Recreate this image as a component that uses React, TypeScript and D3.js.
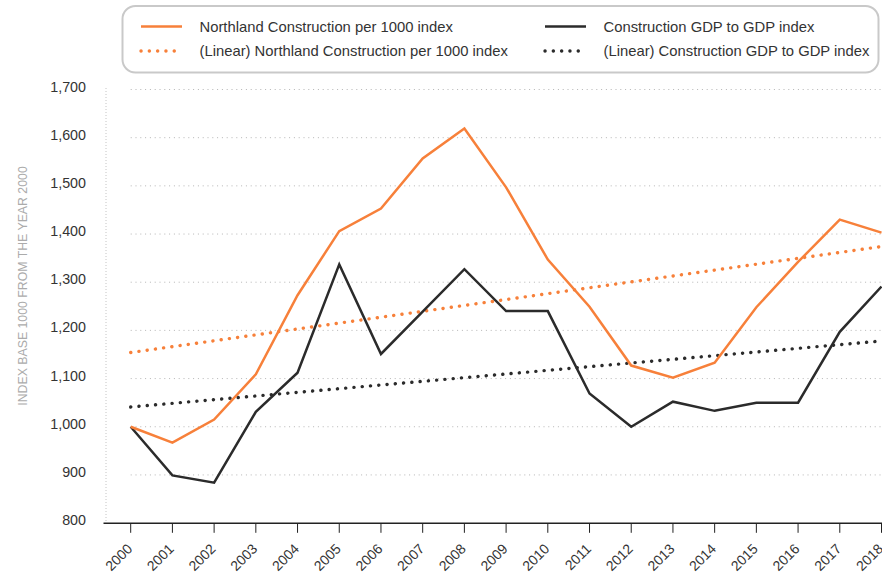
import React from 'react';
import * as d3 from 'd3';

const years: number[] = [
  2000, 2001, 2002, 2003, 2004, 2005, 2006, 2007, 2008, 2009,
  2010, 2011, 2012, 2013, 2014, 2015, 2016, 2017, 2018,
];

const northland: number[] = [
  1000, 967, 1015, 1109, 1273, 1406, 1453, 1557, 1619, 1497,
  1347, 1249, 1127, 1102, 1133, 1248, 1342, 1430, 1403,
];

const gdp: number[] = [
  1000, 899, 884, 1031, 1112, 1337, 1151, 1239, 1327, 1240,
  1240, 1069, 1000, 1052, 1033, 1050, 1050, 1197, 1291,
];

// linear trend end points (2000 and 2018)
const trendYears: number[] = [2000, 2018];
const northlandTrend: number[] = [1154, 1374];
const gdpTrend: number[] = [1041, 1178];

const yTicks: number[] = [800, 900, 1000, 1100, 1200, 1300, 1400, 1500, 1600, 1700];

const legendItems = [
  { label: 'Northland Construction per 1000 index', color: '#f7803a', dotted: false },
  { label: 'Construction GDP to GDP index', color: '#2b2b2b', dotted: false },
  { label: '(Linear) Northland Construction per 1000 index', color: '#f7803a', dotted: true },
  { label: '(Linear) Construction GDP to GDP index', color: '#2b2b2b', dotted: true },
];

const ORANGE = '#f7803a';
const DARK = '#2b2b2b';
const FONT = '"Liberation Sans", Arial, Helvetica, sans-serif';

const App: React.FC = () => {
  const width = 882;
  const height = 576;

  const x = d3.scaleLinear().domain([2000, 2018]).range([130.7, 881.5]);
  const y = d3.scaleLinear().domain([800, 1700]).range([523.1, 89.5]);

  const line = d3
    .line<[number, number]>()
    .x(d => x(d[0]))
    .y(d => y(d[1]));

  const pairs = (xs: number[], vs: number[]) =>
    xs.map((yr, i) => [yr, vs[i]] as [number, number]);

  const dotStyle = { strokeDasharray: '0.1 8.2', strokeLinecap: 'round' as const };

  return (
    <div style={{ position: 'absolute', left: 0, top: 0 }}>
      <svg width={width} height={height} style={{ display: 'block', fontFamily: FONT }}>
        <rect width={width} height={height} fill="#fff" />

        {/* legend */}
        <rect x={122.5} y={6} width={756} height={66.5} rx={13} fill="#fff" stroke="#c9c9c9" strokeWidth={2} />
        {legendItems.map((item, i) => {
          const col = i % 2;
          const row = Math.floor(i / 2);
          const sx = col === 0 ? 141 : 545;
          const sy = row === 0 ? 26.5 : 51;
          return (
            <g key={item.label}>
              <line
                x1={sx}
                x2={sx + 41}
                y1={sy}
                y2={sy}
                stroke={item.color}
                strokeWidth={item.dotted ? 3.4 : 2.6}
                style={item.dotted ? dotStyle : undefined}
              />
              <text x={sx + 58.5} y={sy} dy="0.35em" fontSize={14.8} fill="#333">
                {item.label}
              </text>
            </g>
          );
        })}

        {/* y axis title */}
        <text
          transform={`translate(26.5,286) rotate(-90)`}
          textAnchor="middle"
          fontSize={12.3}
          fill="#ababab"
        >
          INDEX BASE 1000 FROM THE YEAR 2000
        </text>

        {/* dotted y axis line */}
        <line x1={106} x2={106} y1={88} y2={523} stroke="#c4c4c4" strokeWidth={1} strokeDasharray="1 2" />

        {/* gridlines and y labels */}
        {yTicks.map(t => (
          <g key={t}>
            {t > 800 && (
              <line
                x1={x(2000)}
                x2={882}
                y1={y(t)}
                y2={y(t)}
                stroke="#b5b5b5"
                strokeWidth={1}
                strokeDasharray="1 3.8"
              />
            )}
            <text x={86} y={y(t) - 3} dy="0.35em" textAnchor="end" fontSize={14.3} fill="#333">
              {d3.format(',')(t)}
            </text>
          </g>
        ))}

        {/* x axis */}
        <line x1={103.5} x2={882} y1={523.3} y2={523.3} stroke="#222" strokeWidth={1.5} />
        {years.map(yr => (
          <g key={yr} transform={`translate(${x(yr)},523.3)`}>
            <line y1={0} y2={9.5} stroke="#222" strokeWidth={1} />
            <text
              transform="translate(-1,23) rotate(-45)"
              textAnchor="end"
              dy="0.35em"
              fontSize={14}
              fill="#333"
            >
              {yr}
            </text>
          </g>
        ))}

        {/* trend lines */}
        <path
          d={line(pairs(trendYears, northlandTrend)) || ''}
          fill="none"
          stroke={ORANGE}
          strokeWidth={3.4}
          style={dotStyle}
        />
        <path
          d={line(pairs(trendYears, gdpTrend)) || ''}
          fill="none"
          stroke={DARK}
          strokeWidth={3.4}
          style={dotStyle}
        />

        {/* series */}
        <path d={line(pairs(years, gdp)) || ''} fill="none" stroke={DARK} strokeWidth={2.5} strokeLinejoin="miter" />
        <path d={line(pairs(years, northland)) || ''} fill="none" stroke={ORANGE} strokeWidth={2.5} strokeLinejoin="miter" />
      </svg>
    </div>
  );
};

export default App;
